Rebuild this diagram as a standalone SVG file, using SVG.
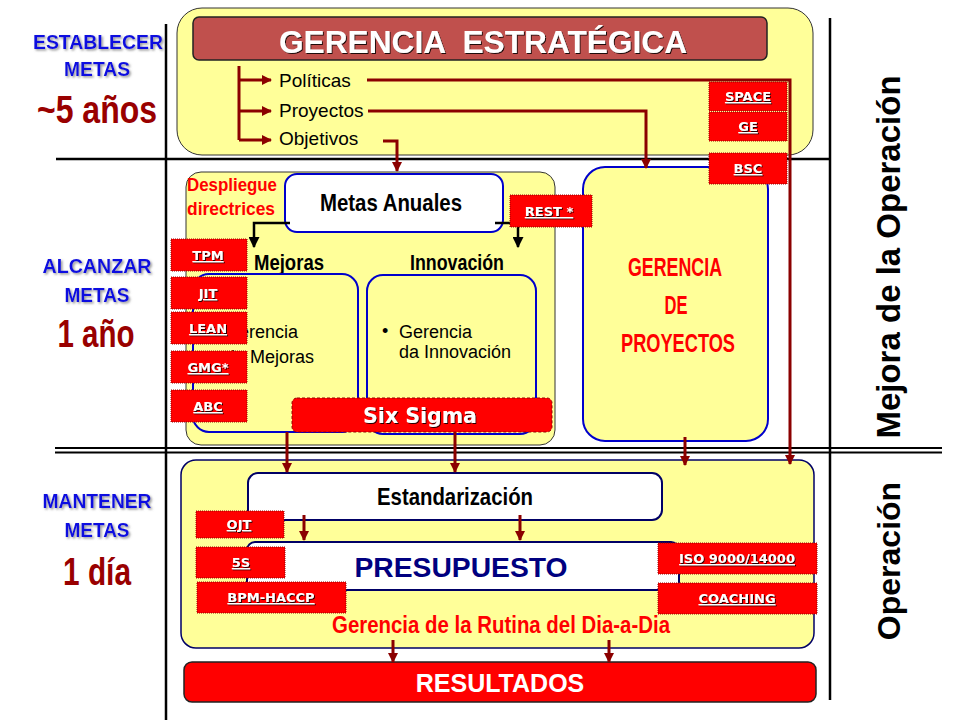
<svg xmlns="http://www.w3.org/2000/svg" width="960" height="720" viewBox="0 0 960 720">
<defs>
<style>
.yel{fill:#FFFF99;stroke:#333;stroke-width:1}
.blu{fill:#FFFF99;stroke:#0000CC;stroke-width:2}
.wht{fill:#FFFFFF;stroke:#0000CC;stroke-width:2}
.whn{fill:#FFFFFF;stroke:#000066;stroke-width:2}
.red{fill:#FF0000;stroke:#990000;stroke-width:1;stroke-dasharray:1 1}
.lbl{font-family:"DejaVu Sans",Verdana,sans-serif;font-weight:bold;font-size:13px;fill:#fff;text-decoration:underline;text-anchor:middle;filter:url(#ts)}
.cond{font-family:"Liberation Sans",Arial,sans-serif;font-weight:bold}
.sans{font-family:"Liberation Sans",Arial,sans-serif}
.side{font-family:"Liberation Sans",Arial,sans-serif;font-weight:bold;fill:#1010E0;text-anchor:middle;filter:url(#gs)}
.conn{fill:none;stroke:#8B0000;stroke-width:3}
.connk{fill:none;stroke:#000;stroke-width:2.5}
.rule{stroke:#000;stroke-width:2.5}
</style>
<filter id="ts" x="-20%" y="-30%" width="140%" height="170%"><feDropShadow dx="1" dy="1" stdDeviation="0.4" flood-color="#000" flood-opacity="0.85"/></filter>
<filter id="gs" x="-20%" y="-30%" width="140%" height="170%"><feDropShadow dx="1.5" dy="1.5" stdDeviation="1" flood-color="#888" flood-opacity="0.9"/></filter>
<marker id="ar" markerUnits="userSpaceOnUse" markerWidth="10" markerHeight="10" viewBox="0 0 10 10" refX="9" refY="5" orient="auto"><path d="M0,0 L10,5 L0,10 z" fill="#8B0000"/></marker>
<marker id="ak" markerUnits="userSpaceOnUse" markerWidth="11" markerHeight="11" viewBox="0 0 10 10" refX="9" refY="5" orient="auto"><path d="M0,0 L10,5 L0,10 z" fill="#000"/></marker>
</defs>
<rect width="960" height="720" fill="#fff"/>

<!-- rules -->
<g id="rules">
<line class="rule" x1="166" y1="24" x2="166" y2="720"/>
<line class="rule" x1="830" y1="18" x2="830" y2="700"/>
<line class="rule" x1="56" y1="159" x2="830" y2="159"/>
<line stroke="#000" stroke-width="2" x1="55" y1="448" x2="942" y2="448"/>
<line stroke="#000" stroke-width="2" x1="55" y1="452.5" x2="942" y2="452.5"/>
</g>

<!-- side labels -->
<g id="side-left">
<text class="side" x="98" y="49" font-size="21" textLength="130" lengthAdjust="spacingAndGlyphs">ESTABLECER</text>
<text class="side" x="97" y="76" font-size="21" textLength="66" lengthAdjust="spacingAndGlyphs">METAS</text>
<text class="cond" x="97" y="123" font-size="38" fill="#990000" text-anchor="middle" textLength="120" lengthAdjust="spacingAndGlyphs">~5 años</text>
<text class="side" x="97" y="273" font-size="21" textLength="109" lengthAdjust="spacingAndGlyphs">ALCANZAR</text>
<text class="side" x="97" y="302" font-size="21" textLength="65" lengthAdjust="spacingAndGlyphs">METAS</text>
<text class="cond" x="96" y="347" font-size="39" fill="#990000" text-anchor="middle" textLength="77" lengthAdjust="spacingAndGlyphs">1 año</text>
<text class="side" x="97" y="508" font-size="21" textLength="109" lengthAdjust="spacingAndGlyphs">MANTENER</text>
<text class="side" x="97" y="537" font-size="21" textLength="65" lengthAdjust="spacingAndGlyphs">METAS</text>
<text class="cond" x="97" y="585" font-size="39" fill="#990000" text-anchor="middle" textLength="68" lengthAdjust="spacingAndGlyphs">1 día</text>
</g>
<g id="side-right">
<text class="sans" font-weight="bold" font-size="33" fill="#000" text-anchor="middle" transform="translate(900,257) rotate(-90)">Mejora de la Operación</text>
<text class="sans" font-weight="bold" font-size="32" fill="#000" text-anchor="middle" transform="translate(900,561) rotate(-90)">Operación</text>
</g>

<!-- top: gerencia estrategica -->
<g id="estrategica">
<rect class="yel" x="177" y="8" width="636" height="147" rx="25"/>
<rect x="193" y="17" width="574" height="43" rx="6" fill="#C0504D" stroke="#222" stroke-width="1.5"/>
<text class="sans" x="483" y="53" font-size="31" font-weight="bold" fill="#fff" text-anchor="middle" filter="url(#ts)" textLength="408" lengthAdjust="spacingAndGlyphs" xml:space="preserve">GERENCIA  ESTRATÉGICA</text>
<text class="sans" x="279" y="87" font-size="19" fill="#000">Políticas</text>
<text class="sans" x="279" y="117" font-size="19" fill="#000">Proyectos</text>
<text class="sans" x="279" y="145" font-size="19" fill="#000">Objetivos</text>
</g>

<!-- middle: despliegue -->
<g id="despliegue">
<rect class="yel" x="186" y="172" width="369" height="273" rx="15"/>
<text class="cond" x="187" y="191" font-size="18" fill="#FF0000" textLength="90" lengthAdjust="spacingAndGlyphs">Despliegue</text>
<text class="cond" x="187" y="215" font-size="18" fill="#FF0000" textLength="88" lengthAdjust="spacingAndGlyphs">directrices</text>
</g>
<g id="metas-anuales">
<rect class="wht" x="285" y="174" width="218" height="58" rx="12"/>
<text class="cond" x="391" y="211" font-size="24" fill="#000" text-anchor="middle" textLength="142" lengthAdjust="spacingAndGlyphs">Metas Anuales</text>
</g>
<g id="mejoras">
<text class="cond" x="289" y="270" font-size="22" fill="#000" text-anchor="middle" textLength="70" lengthAdjust="spacingAndGlyphs">Mejoras</text>
<rect class="blu" x="193" y="274" width="165" height="158" rx="16"/>
<text class="sans" x="208" y="337" font-size="18" fill="#000">•</text>
<text class="sans" x="225" y="338" font-size="18" fill="#000">Gerencia</text>
<text class="sans" x="225" y="363" font-size="18" fill="#000">da Mejoras</text>
</g>
<g id="innovacion">
<text class="cond" x="457" y="270" font-size="22" fill="#000" text-anchor="middle" textLength="94" lengthAdjust="spacingAndGlyphs">Innovación</text>
<rect class="blu" x="367" y="275" width="169" height="159" rx="16"/>
<text class="sans" x="382" y="337" font-size="18" fill="#000">•</text>
<text class="sans" x="399" y="338" font-size="18" fill="#000">Gerencia</text>
<text class="sans" x="399" y="358" font-size="18" fill="#000">da Innovación</text>
</g>
<g id="proyectos">
<rect class="blu" x="583" y="167" width="185" height="274" rx="22"/>
<text class="cond" x="675" y="276" font-size="26" fill="#FF0000" text-anchor="middle" textLength="94" lengthAdjust="spacingAndGlyphs">GERENCIA</text>
<text class="cond" x="676" y="314" font-size="26" fill="#FF0000" text-anchor="middle" textLength="23" lengthAdjust="spacingAndGlyphs">DE</text>
<text class="cond" x="678" y="352" font-size="26" fill="#FF0000" text-anchor="middle" textLength="114" lengthAdjust="spacingAndGlyphs">PROYECTOS</text>
</g>

<!-- bottom: rutina -->
<g id="rutina">
<rect x="181" y="460" width="633" height="188" rx="15" fill="#FFFF99" stroke="#000066" stroke-width="1.5"/>
<text class="cond" x="501" y="633" font-size="24" fill="#FF0000" text-anchor="middle" textLength="338" lengthAdjust="spacingAndGlyphs">Gerencia de la Rutina del Dia-a-Dia</text>
</g>
<g id="estandarizacion">
<rect class="whn" x="248" y="473" width="414" height="47" rx="10"/>
<text class="cond" x="455" y="505" font-size="24" fill="#000" text-anchor="middle" textLength="156" lengthAdjust="spacingAndGlyphs">Estandarización</text>
</g>
<g id="presupuesto">
<rect class="whn" x="247" y="542" width="432" height="48" rx="8"/>
<text class="sans" x="461" y="577" font-size="27" font-weight="bold" fill="#000080" text-anchor="middle" textLength="213" lengthAdjust="spacingAndGlyphs">PRESUPUESTO</text>
</g>
<g id="resultados">
<rect x="184" y="662" width="632" height="40" rx="8" fill="#FF0000" stroke="#222" stroke-width="1.5"/>
<text class="sans" x="500" y="692" font-size="25" font-weight="bold" fill="#fff" text-anchor="middle">RESULTADOS</text>
</g>

<!-- connectors -->
<g id="connectors">
<path class="conn" d="M239,66 V140"/>
<path class="conn" d="M239,80 H271" marker-end="url(#ar)"/>
<path class="conn" d="M239,111 H271" marker-end="url(#ar)"/>
<path class="conn" d="M239,140 H271" marker-end="url(#ar)"/>
<path class="conn" d="M367,80 H790 V464" marker-end="url(#ar)"/>
<path class="conn" d="M368,111 H646 V168" marker-end="url(#ar)"/>
<path class="conn" d="M383,141 H397 V171" marker-end="url(#ar)"/>
<path class="connk" d="M290,223 H254 V247" marker-end="url(#ak)"/>
<path class="connk" d="M495,223 H518 V247" marker-end="url(#ak)"/>
<path class="conn" d="M287,432 V472" marker-end="url(#ar)"/>
<path class="conn" d="M455,432 V472" marker-end="url(#ar)"/>
<path class="conn" d="M685,437 V465" marker-end="url(#ar)"/>
<path class="conn" d="M304,515 V540" marker-end="url(#ar)"/>
<path class="conn" d="M520,515 V540" marker-end="url(#ar)"/>
<path class="conn" d="M393,640 V662" marker-end="url(#ar)"/>
<path class="conn" d="M609,640 V662" marker-end="url(#ar)"/>
</g>

<!-- six sigma -->
<g id="six-sigma">
<rect x="292" y="398" width="260" height="34" rx="5" fill="#FF0000" stroke="#990000" stroke-width="1" stroke-dasharray="3 2"/>
<text x="420" y="423" font-family="'DejaVu Sans',Verdana,sans-serif" font-weight="bold" font-size="20.5" fill="#fff" text-anchor="middle" filter="url(#ts)">Six Sigma</text>
</g>

<!-- tool tags -->
<g id="tag-space"><rect class="red" x="709" y="82" width="78" height="29"/><text class="lbl" x="748" y="101">SPACE</text></g>
<g id="tag-ge"><rect class="red" x="709" y="112" width="78" height="29"/><text class="lbl" x="748" y="131">GE</text></g>
<g id="tag-bsc"><rect class="red" x="709" y="153" width="78" height="31"/><text class="lbl" x="748" y="173">BSC</text></g>
<g id="tag-rest"><rect class="red" x="510" y="195" width="82" height="32"/><text class="lbl" x="549" y="216">REST *</text></g>
<g id="tag-tpm"><rect class="red" x="171" y="239" width="76" height="32"/><text class="lbl" x="208" y="260">TPM</text></g>
<g id="tag-jit"><rect class="red" x="171" y="277" width="76" height="32"/><text class="lbl" x="208" y="298">JIT</text></g>
<g id="tag-lean"><rect class="red" x="171" y="312" width="76" height="32"/><text class="lbl" x="208" y="333">LEAN</text></g>
<g id="tag-gmg"><rect class="red" x="171" y="351" width="76" height="32"/><text class="lbl" x="208" y="372">GMG*</text></g>
<g id="tag-abc"><rect class="red" x="171" y="390" width="76" height="32"/><text class="lbl" x="208" y="411">ABC</text></g>
<g id="tag-ojt"><rect class="red" x="196" y="511" width="88" height="27"/><text class="lbl" x="239" y="529">OJT</text></g>
<g id="tag-5s"><rect class="red" x="196" y="547" width="89" height="31"/><text class="lbl" x="241" y="567">5S</text></g>
<g id="tag-bpm"><rect class="red" x="197" y="582" width="149" height="31"/><text class="lbl" x="271" y="602">BPM-HACCP</text></g>
<g id="tag-iso"><rect class="red" x="658" y="543" width="159" height="31"/><text class="lbl" x="737" y="563">ISO 9000/14000</text></g>
<g id="tag-coaching"><rect class="red" x="658" y="583" width="159" height="31"/><text class="lbl" x="737" y="603">COACHING</text></g>
</svg>
